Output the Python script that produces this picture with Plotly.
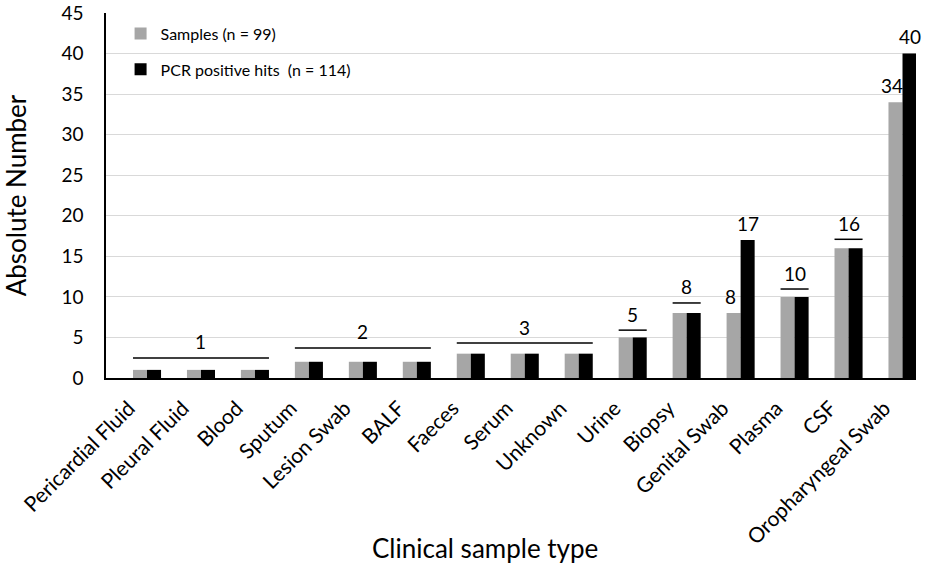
import plotly.graph_objects as go

categories = ["Pericardial Fluid", "Pleural Fluid", "Blood", "Sputum", "Lesion Swab", "BALF",
              "Faeces", "Serum", "Unknown", "Urine", "Biopsy", "Genital Swab", "Plasma", "CSF",
              "Oropharyngeal Swab"]
samples = [1, 1, 1, 2, 2, 2, 3, 3, 3, 5, 8, 8, 10, 16, 34]
pcr_hits = [1, 1, 1, 2, 2, 2, 3, 3, 3, 5, 8, 17, 10, 16, 40]

# grouped labels: (label, first index, last index, bracket height)
group_labels = ["1", "2", "3", "5", "8", "10", "16"]
group_first = [0, 3, 6, 9, 10, 12, 13]
group_last = [2, 5, 8, 9, 10, 12, 13]
group_line_y = [2.47, 3.7, 4.3, 5.9, 9.25, 10.97, 17.1]

# individually labelled bars
single_idx = [11, 11, 14, 14]
single_series = ["samples", "pcr", "samples", "pcr"]

FONT = "Lato"
GRAY = "#a6a6a6"
x_idx = list(range(len(categories)))

fig = go.Figure()
fig.add_trace(go.Bar(x=x_idx, y=samples, name="Samples (n = 99)", marker_color=GRAY,
                     marker_line_width=0, legendgroup="a"))
fig.add_trace(go.Bar(x=x_idx, y=pcr_hits, name="PCR positive hits  (n = 114)",
                     marker_color="#000000", marker_line_width=0, legendgroup="b"))

half = 0.13
shapes = []
annotations = []
for lab, a, b, ly in zip(group_labels, group_first, group_last, group_line_y):
    shapes.append(dict(type="line", xref="x", yref="y", x0=a - 2 * half, x1=b + 2 * half,
                       y0=ly, y1=ly, line=dict(color="#000000", width=1.5)))
    annotations.append(dict(x=(a + b) / 2, y=ly, xref="x", yref="y", text=lab, showarrow=False,
                            yanchor="middle", yshift=16, font=dict(family=FONT, size=19, color="#000")))

for i, s in zip(single_idx, single_series):
    if s == "samples":
        xv, yv = i - half, samples[i]
    else:
        xv, yv = i + half, pcr_hits[i]
    annotations.append(dict(x=xv, y=yv, xref="x", yref="y", text=str(yv), showarrow=False,
                            yanchor="middle", yshift=17, xshift=(-3 if s == "samples" else 0),
                            font=dict(family=FONT, size=19, color="#000")))

annotations.append(dict(x=0.468, y=-0.465, xref="paper", yref="paper", text="Clinical sample type",
                        showarrow=False, xanchor="center", yanchor="middle",
                        font=dict(family=FONT, size=26, color="#000")))

fig.update_layout(
    width=935, height=570,
    margin=dict(l=106, r=19, t=13, b=192, autoexpand=False),
    paper_bgcolor="white", plot_bgcolor="white",
    barmode="group", bargap=0.48, bargroupgap=0,
    font=dict(family=FONT, color="#000"),
    shapes=shapes, annotations=annotations,
    legend=dict(x=0.018, y=0.99, xanchor="left", yanchor="top", bgcolor="rgba(0,0,0,0)",
                font=dict(family=FONT, size=16, color="#000"), tracegroupgap=12,
                traceorder="grouped"),
    xaxis=dict(range=[-0.76, 14.25], tickmode="array", tickvals=x_idx, ticktext=categories,
               tickangle=-45, tickfont=dict(family=FONT, size=21, color="#000"),
               showline=True, linecolor="#000", linewidth=1.5, showgrid=False, ticks="",
               ticklabelstandoff=8, ticklabelshift=-18, automargin=False),
    yaxis=dict(range=[0, 45], dtick=5, tickfont=dict(family=FONT, size=19, color="#000"),
               showgrid=True, gridcolor="#d9d9d9", gridwidth=1, zeroline=False,
               showline=True, linecolor="#000", linewidth=1.5, ticks="",
               ticklabelstandoff=17, automargin=False, ticklabeloverflow="allow",
               title=dict(text="Absolute Number", font=dict(family=FONT, size=26, color="#000"),
                          standoff=40)),
)

fig.write_html("out.html", config={"displayModeBar": False},
               post_script="document.body.style.margin='0';document.body.style.overflow='hidden';")
